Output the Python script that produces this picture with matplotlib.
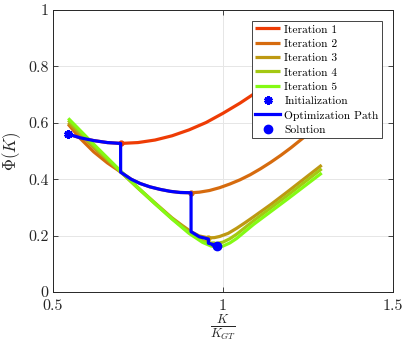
import matplotlib
matplotlib.use("Agg")
import matplotlib.pyplot as plt

plt.rcParams['font.family'] = 'serif'
plt.rcParams['font.serif'] = ['cmr10', 'DejaVu Serif']
plt.rcParams['mathtext.fontset'] = 'cm'
plt.rcParams['axes.unicode_minus'] = False

# ---- data ----
it1_x = [0.545, 0.58, 0.62, 0.66, 0.70, 0.75, 0.80, 0.85, 0.90, 0.95, 1.00, 1.05, 1.10, 1.15, 1.20, 1.25, 1.29]
it1_y = [0.560, 0.547, 0.537, 0.530, 0.527, 0.530, 0.539, 0.554, 0.575, 0.601, 0.634, 0.670, 0.710, 0.750, 0.790, 0.830, 0.862]

it2_x = [0.545, 0.58, 0.62, 0.66, 0.70, 0.73, 0.756, 0.785, 0.815, 0.845, 0.874, 0.905, 0.93, 0.96, 0.99, 1.02, 1.05, 1.08, 1.11, 1.14, 1.17, 1.20, 1.235, 1.26, 1.29]
it2_y = [0.595, 0.545, 0.497, 0.458, 0.425, 0.400, 0.385, 0.373, 0.364, 0.357, 0.353, 0.352, 0.354, 0.360, 0.370, 0.383, 0.398, 0.416, 0.437, 0.460, 0.485, 0.512, 0.546, 0.571, 0.600]

it3_x = [0.545, 0.62, 0.70, 0.75, 0.80, 0.85, 0.88, 0.906, 0.93, 0.957, 0.975, 0.99, 1.015, 1.04, 1.065, 1.09, 1.14, 1.19, 1.24, 1.29]
it3_y = [0.600, 0.512, 0.425, 0.370, 0.316, 0.263, 0.236, 0.214, 0.199, 0.192, 0.193, 0.197, 0.208, 0.226, 0.246, 0.267, 0.310, 0.356, 0.403, 0.450]

it4_x = [0.545, 0.62, 0.70, 0.75, 0.80, 0.85, 0.90, 0.94, 0.97, 0.985, 1.00, 1.02, 1.04, 1.065, 1.09, 1.14, 1.19, 1.24, 1.29]
it4_y = [0.609, 0.518, 0.425, 0.368, 0.313, 0.260, 0.212, 0.182, 0.172, 0.173, 0.177, 0.189, 0.205, 0.229, 0.253, 0.298, 0.343, 0.390, 0.437]

it5_x = [0.545, 0.62, 0.70, 0.75, 0.80, 0.85, 0.90, 0.94, 0.965, 0.983, 1.00, 1.02, 1.04, 1.065, 1.09, 1.14, 1.19, 1.24, 1.29]
it5_y = [0.616, 0.524, 0.428, 0.370, 0.314, 0.259, 0.208, 0.176, 0.163, 0.160, 0.163, 0.174, 0.190, 0.215, 0.240, 0.285, 0.330, 0.376, 0.422]

path_x = [0.545, 0.58, 0.62, 0.66, 0.699, 0.699, 0.73, 0.756, 0.785, 0.815, 0.845, 0.874, 0.906, 0.906, 0.93, 0.957, 0.957, 0.97, 0.97, 0.983]
path_y = [0.560, 0.547, 0.537, 0.530, 0.527, 0.425, 0.400, 0.385, 0.373, 0.364, 0.357, 0.353, 0.352, 0.214, 0.196, 0.188, 0.173, 0.169, 0.166, 0.162]

min_x = [0.699, 0.906, 0.957, 0.970, 0.983]
min_y = [0.527, 0.352, 0.192, 0.172, 0.160]

init_x, init_y = 0.545, 0.560
sol_x, sol_y = 0.983, 0.162

labels = ['Iteration 1', 'Iteration 2', 'Iteration 3', 'Iteration 4', 'Iteration 5']
colors = ['#EE3C05', '#D66B0E', '#BE9912', '#A4C812', '#84FA14']

xticks = [0.5, 1.0, 1.5]
xticklabels = ['0.5', '1', '1.5']
yticks = [0, 0.2, 0.4, 0.6, 0.8, 1.0]
yticklabels = ['0', '0.2', '0.4', '0.6', '0.8', '1']

fig = plt.figure(figsize=(4.07, 3.46), dpi=100)
ax = fig.add_axes([0.130, 0.156, 0.836, 0.815])

series = [(it1_x, it1_y), (it2_x, it2_y), (it3_x, it3_y), (it4_x, it4_y), (it5_x, it5_y)]
handles = []
for (xs, ys), c, lab, mx, my in zip(series, colors, labels, min_x, min_y):
    h, = ax.plot(xs, ys, color=c, lw=2.3, label=lab, solid_capstyle='butt',
                 solid_joinstyle='round', zorder=2)
    ax.plot([mx], [my], marker='o', ms=3.5, color=c, zorder=2.5)
    handles.append(h)

h_init, = ax.plot([init_x], [init_y], ls='none', marker=(6, 2, 0), ms=6, mew=2.2,
                  color='#0000FF', label='Initialization', zorder=4)
h_path, = ax.plot(path_x, path_y, color='#0000FF', lw=2.3, label='Optimization Path',
                  solid_joinstyle='round', zorder=3)
h_sol, = ax.plot([sol_x], [sol_y], ls='none', marker='o', ms=6, color='#0000FF',
                 label='Solution', zorder=4)
handles += [h_init, h_path, h_sol]

ax.set_xlim(0.5, 1.5)
ax.set_ylim(0, 1)
ax.set_xticks(xticks)
ax.set_xticklabels(xticklabels)
ax.set_yticks(yticks)
ax.set_yticklabels(yticklabels)
ax.tick_params(direction='in', length=3.5, width=0.6, colors='#262626', labelsize=11.5,
               top=True, right=True, labelcolor='#262626')
ax.tick_params(axis='x', pad=5)
ax.tick_params(axis='y', pad=3)
ax.grid(True, color='#e6e6e6', lw=0.7, zorder=0)
ax.set_axisbelow(True)
for s in ax.spines.values():
    s.set_color('#262626')
    s.set_linewidth(0.7)

ax.set_xlabel(r'$\frac{K}{K_{GT}}$', fontsize=13, color='#262626', labelpad=0)
ax.set_ylabel(r'$\Phi(K)$', fontsize=12, color='#262626', labelpad=4)

leg = ax.legend(handles=handles, loc='upper right', fontsize=8.3, frameon=True, fancybox=False,
                edgecolor='#262626', framealpha=1, borderaxespad=0.95, handlelength=2.2,
                handletextpad=0.35, labelspacing=0.37, borderpad=0.3)
leg.get_frame().set_linewidth(0.6)

fig.savefig('out.png', dpi=100)
